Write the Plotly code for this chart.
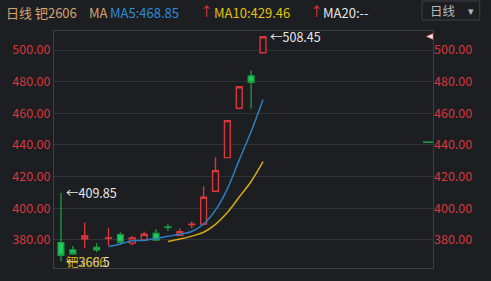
import plotly.graph_objects as go
import pandas as pd

# ---- data ----
opens  = [378.3, 373.7, 380.8, 375.3, 381.0, 383.3, 378.0, 380.0, 384.2, 388.2, 383.0, 389.7, 390.0, 410.8, 432.0, 463.2, 483.6, 498.3]
highs  = [409.85, 376.2, 391.0, 377.9, 387.6, 384.9, 382.5, 385.3, 386.8, 390.0, 387.4, 391.8, 414.0, 432.2, 455.5, 476.9, 487.0, 508.45]
lows   = [366.5, 370.6, 375.0, 372.4, 376.6, 377.5, 376.7, 379.8, 379.9, 385.7, 382.8, 387.4, 389.5, 410.6, 431.8, 462.5, 463.0, 498.2]
closes = [370.3, 371.3, 382.5, 373.8, 381.3, 378.7, 381.3, 383.6, 380.0, 388.0, 385.3, 390.0, 407.0, 423.8, 455.4, 476.8, 479.6, 508.4]
xs = list(range(len(closes)))
yticks = [380, 400, 420, 440, 460, 480, 500]
ytick_text = ["380.00", "400.00", "420.00", "440.00", "460.00", "480.00", "500.00"]

ma5 = pd.Series(closes).rolling(5).mean()
ma10 = pd.Series(closes).rolling(10).mean()

BG = "#1c1e22"
RED = "#d9373b"
GREEN_BODY = "#1fcf5e"
GREEN_LINE = "#1a9e42"
BLUE = "#2b7fc4"
GOLD = "#d2aa12"
GRID = "#303338"
BORDER = "#3b3e44"
FONT = "Noto Sans CJK SC"

W, H = 491, 281
L, R, T, B = 52, 433, 31, 268
YMIN, YMAX = 362.3, 512.0
XMIN, XMAX = -0.586, 31.3

def px(x):
    return (x - L) / (R - L)

def py(y):
    return (B - y) / (B - T)

fig = go.Figure()
fig.add_trace(go.Scatter(x=xs, y=ma5, mode="lines", line=dict(color=BLUE, width=1.5, shape="spline"), hoverinfo="skip"))
fig.add_trace(go.Scatter(x=xs, y=ma10, mode="lines", line=dict(color=GOLD, width=1.5, shape="spline"), hoverinfo="skip"))
fig.add_trace(go.Candlestick(
    x=xs, open=opens, high=highs, low=lows, close=closes,
    increasing=dict(line=dict(color=RED, width=1.4), fillcolor=BG),
    decreasing=dict(line=dict(color=GREEN_LINE, width=1.3), fillcolor=GREEN_BODY),
    whiskerwidth=0, showlegend=False,
))
# invisible trace for the right axis
fig.add_trace(go.Scatter(x=[xs[0]], y=[closes[0]], yaxis="y2", mode="markers", marker=dict(opacity=0), hoverinfo="skip"))

fig.update_layout(
    width=W, height=H, paper_bgcolor=BG, plot_bgcolor=BG,
    margin=dict(l=L, r=W - R, t=T, b=H - B),
    showlegend=False, boxgap=0.3,
    font=dict(family=FONT, size=12, color=RED),
    xaxis=dict(range=[XMIN, XMAX], showgrid=False, showticklabels=False, zeroline=False,
               showline=True, linecolor=BORDER, linewidth=1, mirror=True,
               rangeslider=dict(visible=False), fixedrange=True),
    yaxis=dict(range=[YMIN, YMAX], tickvals=yticks, ticktext=ytick_text, showgrid=True,
               gridcolor=GRID, gridwidth=1, zeroline=False, showline=True, linecolor=BORDER,
               mirror=True, ticks="", tickfont=dict(color=RED, size=12.5, family=FONT)),
    yaxis2=dict(range=[YMIN, YMAX], tickvals=yticks, ticktext=ytick_text, overlaying="y",
                side="right", showgrid=False, zeroline=False, ticks="",
                tickfont=dict(color=RED, size=12.5, family=FONT)),
)

ann = []
def text(x, y, s, color, size=12.5, xanchor="left"):
    ann.append(dict(x=px(x), y=py(y), xref="paper", yref="paper", text=s, showarrow=False,
                    xanchor=xanchor, yanchor="middle", font=dict(color=color, size=size, family=FONT)))

# header
text(2, 12, "日线 钯2606", "#d6a26c", 13)
text(85, 12, "MA", "#d6a26c", 13)
text(106, 12, "MA5:468.85", "#2e8bd8", 13)
text(197, 11, "↑", "#e8333a", 13)
text(211, 12, "MA10:429.46", "#e2c106", 13)
text(307, 11, "↑", "#e8333a", 13)
text(320, 12, "MA20:--", "#e6e6e6", 13)
text(428, 11, "日线", "#b8b8b8", 12.5)
text(466, 10, "▾", "#b8b8b8", 11)

fig.add_shape(type="rect", xref="paper", yref="paper", x0=px(422), x1=px(480), y0=py(20), y1=py(1),
              line=dict(color="#3d4046", width=1), fillcolor="rgba(0,0,0,0)", layer="above")

# high / low markers
for xi, yv, s in [(0, 409.85, "←409.85"), (17, 508.45, "←508.45"), (0, 366.5, "←366.5")]:
    ann.append(dict(x=xi, y=yv, xref="x", yref="y", text=s, showarrow=False, xanchor="left",
                    yanchor="middle", xshift=3 if xi == 0 else 5,
                    font=dict(color="#e8e8e8", size=12.5, family=FONT)))
text(62, 261, "钯2606", "#c9a010", 12.5)

fig.update_layout(annotations=ann)

# right-edge markers
fig.add_shape(type="line", xref="paper", yref="y", x0=px(423), x1=px(433), y0=441.8, y1=441.8,
              line=dict(color="#1aa84a", width=1.5))
fig.add_shape(type="path", xref="paper", yref="paper",
              path=f"M {px(426)},{py(36.5)} L {px(433)},{py(33.5)} L {px(433)},{py(39.5)} Z",
              fillcolor="#e8e8e8", line=dict(color="#d9373b", width=0.5))

fig.write_html("out.html")
